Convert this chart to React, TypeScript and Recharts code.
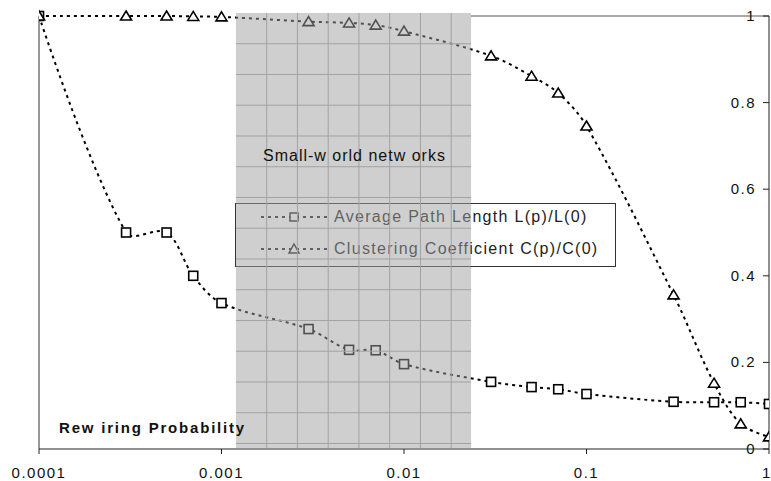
import React from "react";
import {
  LineChart,
  Line,
  XAxis,
  YAxis,
  ReferenceArea,
  ReferenceLine,
} from "recharts";

// rewiring probability p (log axis)
const probs = [0.0001, 0.0003, 0.0005, 0.0007, 0.001, 0.003, 0.005, 0.007, 0.01, 0.03, 0.05, 0.07, 0.1, 0.3, 0.5, 0.7, 1];
// L(p)/L(0)
const pathLength = [1, 0.5, 0.5, 0.4, 0.337, 0.277, 0.229, 0.228, 0.196, 0.155, 0.143, 0.138, 0.127, 0.109, 0.108, 0.108, 0.104];
// C(p)/C(0)
const clustering = [1, 1, 1, 0.999, 0.998, 0.987, 0.984, 0.979, 0.965, 0.908, 0.861, 0.822, 0.746, 0.356, 0.152, 0.058, 0.028];

const xTicks = [0.0001, 0.001, 0.01, 0.1, 1];
const yTicks = [0, 0.2, 0.4, 0.6, 0.8, 1];

// small-world band
const bandFrom = 0.0012;
const bandTo = 0.0233;

const data = probs.map((p, i) => ({ p, L: pathLength[i], C: clustering[i] }));

const FONT = "'Liberation Sans', Arial, sans-serif";

// Excel-like smoothed line: tangents scaled by neighbouring segment lengths
const smoothCurve: any = (context: any) => {
  let pts: [number, number][] = [];
  const dist = (a: [number, number], b: [number, number]) => Math.hypot(b[0] - a[0], b[1] - a[1]);
  return {
    areaStart() {},
    areaEnd() {},
    lineStart() {
      pts = [];
    },
    point(x: number, y: number) {
      pts.push([+x, +y]);
    },
    lineEnd() {
      if (!pts.length) return;
      context.moveTo(pts[0][0], pts[0][1]);
      if (pts.length === 2) {
        context.lineTo(pts[1][0], pts[1][1]);
        return;
      }
      for (let i = 0; i < pts.length - 1; i++) {
        const p1 = pts[i];
        const p2 = pts[i + 1];
        const d12 = dist(p1, p2);
        let c1 = p1;
        let c2 = p2;
        if (i > 0) {
          const p0 = pts[i - 1];
          const f = d12 / (dist(p0, p1) + d12) / 3;
          c1 = [p1[0] + (p2[0] - p0[0]) * f, p1[1] + (p2[1] - p0[1]) * f];
        }
        if (i + 2 < pts.length) {
          const p3 = pts[i + 2];
          const f = d12 / (d12 + dist(p2, p3)) / 3;
          c2 = [p2[0] - (p3[0] - p1[0]) * f, p2[1] - (p3[1] - p1[1]) * f];
        }
        context.bezierCurveTo(c1[0], c1[1], c2[0], c2[1], p2[0], p2[1]);
      }
    },
  };
};

const SquareDot = (props: any) => {
  const { cx, cy, index } = props;
  if (cx == null || cy == null) return <g key={`s${index}`} />;
  return (
    <rect key={`s${index}`} x={cx - 4.5} y={cy - 4.5} width={9} height={9} fill="#fff" stroke="#000" strokeWidth={1.6} />
  );
};

const TriDot = (props: any) => {
  const { cx, cy, index } = props;
  if (cx == null || cy == null) return <g key={`t${index}`} />;
  return (
    <path
      key={`t${index}`}
      d={`M${cx},${cy - 5} L${cx + 5.5},${cy + 4} L${cx - 5.5},${cy + 4} Z`}
      fill="#fff"
      stroke="#000"
      strokeWidth={1.6}
    />
  );
};

const XTick = ({ x, y, payload }: any) => (
  <text x={x} y={y + 24} textAnchor="middle" fontFamily={FONT} fontSize={15} letterSpacing={1.5} fill="#111">
    {String(payload.value)}
  </text>
);

const YTick = ({ x, y, payload }: any) => (
  <text x={x + 1} y={y + 5} textAnchor="end" fontFamily={FONT} fontSize={15} letterSpacing={1.5} fill="#111">
    {String(payload.value)}
  </text>
);

// legend box sits under the shaded band, labels on top of it
const Legend = () => (
  <g fontFamily={FONT} fontSize={16} letterSpacing={1.3} fill="#222">
    <rect x={235.5} y={203.5} width={380} height={63} fill="#fff" stroke="#333" strokeWidth={1} />
    <line x1={261} y1={217} x2={327} y2={217} stroke="#222" strokeWidth={2} strokeDasharray="3 4" />
    <rect x={290} y={213} width={8} height={8} fill="#fff" stroke="#222" strokeWidth={1.5} />
    <text x={334} y={222}>Average Path Length L(p)/L(0)</text>
    <line x1={261} y1={249} x2={327} y2={249} stroke="#222" strokeWidth={2} strokeDasharray="3 4" />
    <path d="M294,244 L299,253 L289,253 Z" fill="#fff" stroke="#222" strokeWidth={1.5} />
    <text x={334} y={254}>Clustering Coefficient C(p)/C(0)</text>
  </g>
);

const BandShape = (props: any) => {
  const { x, y, width, height } = props;
  const step = 30.75;
  const vs: number[] = [];
  const hs: number[] = [];
  for (let gx = x + step; gx < x + width - 2; gx += step) vs.push(gx);
  for (let gy = y + step; gy < y + height - 2; gy += step) hs.push(gy);
  return (
    <g>
      <Legend />
      <rect x={x} y={y} width={width} height={height} fill="#a0a0a0" fillOpacity={0.5} />
      {vs.map((gx) => (
        <line key={`v${gx}`} x1={gx} y1={y} x2={gx} y2={y + height} stroke="#a2a2a2" strokeWidth={1} />
      ))}
      {hs.map((gy) => (
        <line key={`h${gy}`} x1={x} y1={gy} x2={x + width} y2={gy} stroke="#a2a2a2" strokeWidth={1} />
      ))}
      <text x={263} y={161} fontFamily={FONT} fontSize={16} letterSpacing={1} fill="#111">
        Small-w orld netw orks
      </text>
      <text x={59} y={433} fontFamily={FONT} fontSize={15} fontWeight="bold" letterSpacing={1.8} fill="#111">
        Rew iring Probability
      </text>
    </g>
  );
};

export default function App() {
  return (
    <div style={{ position: "absolute", left: 0, top: 0, width: 771, height: 481, background: "#fff" }}>
      <LineChart width={771} height={481} data={data} margin={{ top: 16, right: 2, left: 39, bottom: 0 }}>
        <XAxis
          dataKey="p"
          type="number"
          scale="log"
          domain={[0.0001, 1]}
          ticks={xTicks}
          allowDataOverflow
          height={32}
          tickSize={5}
          tickMargin={0}
          axisLine={{ stroke: "#222" }}
          tickLine={{ stroke: "#222" }}
          tick={<XTick />}
        />
        <YAxis
          orientation="right"
          mirror
          domain={[0, 1]}
          ticks={yTicks}
          tickSize={6}
          tickMargin={8}
          axisLine={{ stroke: "#222" }}
          tickLine={{ stroke: "#222" }}
          tick={<YTick />}
        />
        <ReferenceLine x={0.0001} stroke="#333" ifOverflow="visible" />
        <ReferenceLine
          segment={[
            { x: bandTo, y: 1 },
            { x: 1, y: 1 },
          ]}
          stroke="#555"
          ifOverflow="visible"
        />
        <Line
          dataKey="L"
          type={smoothCurve}
          stroke="#000"
          strokeWidth={2}
          strokeDasharray="3 4"
          dot={SquareDot}
          activeDot={false}
          isAnimationActive={false}
        />
        <Line
          dataKey="C"
          type={smoothCurve}
          stroke="#000"
          strokeWidth={2}
          strokeDasharray="3 4"
          dot={TriDot}
          activeDot={false}
          isAnimationActive={false}
        />
        <ReferenceArea
          x1={bandFrom}
          x2={bandTo}
          y1={0.0023}
          y2={1.007}
          ifOverflow="visible"
          shape={BandShape}
          zIndex={1000}
        />
      </LineChart>
    </div>
  );
}
